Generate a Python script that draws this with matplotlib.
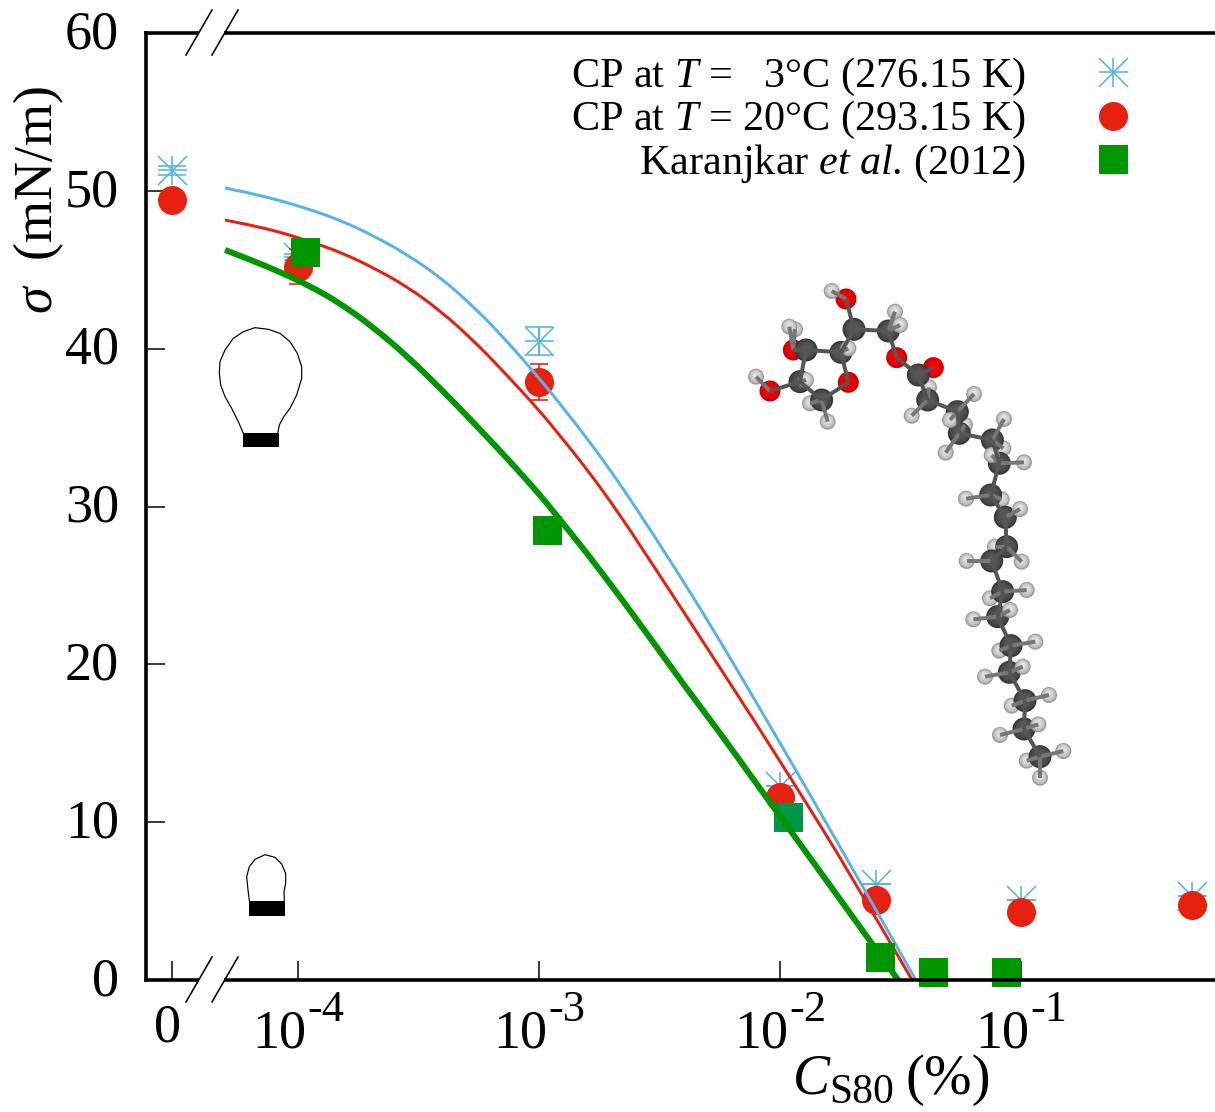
import numpy as np
import matplotlib
matplotlib.use('Agg')
import matplotlib.pyplot as plt
from matplotlib.lines import Line2D
from matplotlib.patches import Circle, PathPatch, Rectangle
from matplotlib.path import Path
from matplotlib.ticker import NullLocator
from matplotlib.transforms import ScaledTranslation

plt.rcParams['font.family'] = ['Liberation Serif', 'DejaVu Serif']
plt.rcParams['mathtext.fontset'] = 'custom'
plt.rcParams['mathtext.rm'] = 'Liberation Serif'
plt.rcParams['mathtext.it'] = 'Liberation Serif:italic'

# concentration used for the "0" position on the broken log axis
zero_pos = 3e-5

# simulation points
cp_conc = [zero_pos, 1e-4, 1e-3, 1e-2, 0.025, 0.1, 0.51]
cp3_sigma = [51.3, 45.8, 40.5, 12.3, 6.1, 5.1, 5.3]
cp3_err = [0.3, 0.2, 0.9, 0, 0, 0, 0]
cp20_sigma = [49.4, 45.2, 37.9, 11.6, 5.1, 4.3, 4.75]
cp20_err = [0, 1.1, 1.14, 0, 0, 0, 0]

# experiment
kar_conc = [1.07e-4, 1.08e-3, 1.08e-2, 0.0260, 0.0432, 0.0867]
kar_sigma = [46.1, 28.5, 10.3, 1.46, 0.5, 0.5]

# fitted curves
fit_conc = [4.98e-5, 6.32e-5, 8.41e-5, 1.12e-4, 1.49e-4, 2.05e-4, 2.83e-4, 3.88e-4, 5.32e-4, 7.36e-4,
            1.01e-3, 1.16e-3, 1.58e-3, 2.17e-3, 2.97e-3, 4.11e-3, 5.64e-3, 7.73e-3,
            1.10e-2, 1.95e-2]
fit3_sigma = [50.18, 49.86, 49.39, 48.82, 48.15, 47.17, 45.97, 44.54, 42.70, 40.49,
              38.05, 36.94, 34.34, 31.43, 28.26, 24.90, 21.48, 17.93, 13.94, 7.35]
fit20_sigma = [48.15, 47.84, 47.39, 46.79, 46.13, 45.14, 43.94, 42.42, 40.55, 38.33,
               36.02, 34.91, 32.38, 29.46, 26.29, 23.00, 19.77, 16.54, 12.86, 6.78]
fitk_sigma = [46.25, 45.65, 44.86, 43.97, 42.89, 41.37, 39.54, 37.51, 35.35, 33.07,
              30.73, 29.59, 27.05, 24.27, 21.42, 18.44, 15.65, 12.74, 9.50, 4.25]
fit3_end = 3.66e-2
fit20_end = 3.53e-2
fitk_end = 3.09e-2

yticks = [0, 10, 20, 30, 40, 50, 60]
decades = [1e-4, 1e-3, 1e-2, 1e-1]
decade_exp = ['-4', '-3', '-2', '-1']

sky = '#56b4e9'
red = '#e8200f'
green = '#009600'


def pts(px):
    return px * 72 / 100


def curve(ax, conc, sigma, color, lw, zorder):
    # read points are used as control points so the line stays round, no kinks
    lx = np.log10(conc)
    y = np.array(sigma)
    verts = [(lx[0], y[0])]
    codes = [Path.MOVETO]
    for i in range(1, len(lx) - 2):
        verts += [(lx[i], y[i]), ((lx[i] + lx[i + 1]) / 2, (y[i] + y[i + 1]) / 2)]
        codes += [Path.CURVE3, Path.CURVE3]
    verts += [(lx[-2], y[-2]), (lx[-1], y[-1])]
    codes += [Path.CURVE3, Path.CURVE3]
    verts = np.array(verts)
    verts[:, 0] = 10 ** verts[:, 0]
    ax.add_patch(PathPatch(Path(verts, codes), fc='none', ec=color, lw=lw, zorder=zorder, capstyle='butt'))


fig = plt.figure(figsize=(12.15, 11.12), dpi=100)
ax = fig.add_axes([146 / 1215, 132 / 1112, 1069 / 1215, 947 / 1112])
ax.set_xscale('log')
ax.set_xlim(2.34e-5, 0.638)
ax.set_ylim(0, 60)

# stars are a plus and a cross on top of each other
ax.plot(cp_conc, cp3_sigma, ls='none', marker='+', ms=pts(29), mew=pts(1.6), color=sky, zorder=2)
ax.plot(cp_conc, cp3_sigma, ls='none', marker='x', ms=pts(29), mew=pts(1.6), color=sky, zorder=2)
ax.errorbar(cp_conc, cp3_sigma, yerr=cp3_err, fmt='none', ecolor=sky, elinewidth=pts(1.6),
            capsize=pts(14), capthick=pts(1.6), zorder=2)
ax.errorbar(cp_conc, cp20_sigma, yerr=cp20_err, fmt='none', ecolor=red, elinewidth=pts(1.6),
            capsize=pts(9), capthick=pts(1.6), zorder=2.01)
ax.plot(cp_conc, cp20_sigma, ls='none', marker='o', ms=pts(29), mew=0, color=red, zorder=2.02)

curve(ax, fit_conc + [fit3_end], fit3_sigma + [0], sky, pts(3), 2.03)
curve(ax, fit_conc + [fit20_end], fit20_sigma + [0], red, pts(3), 2.04)

ax.plot(kar_conc, kar_sigma, ls='none', marker='s', ms=pts(29), mew=0, color=green, zorder=2.05, clip_on=False)
ax.plot(kar_conc[2], kar_sigma[2], ls='none', marker='s', ms=pts(29), mew=0, color='#009645', zorder=2.06)
curve(ax, fit_conc + [fitk_end], fitk_sigma + [0], green, pts(6), 2.07)

for s in ['top', 'left', 'bottom']:
    ax.spines[s].set_linewidth(pts(3.6))
ax.spines['right'].set_visible(False)

ax.set_xticks([zero_pos] + decades)
ax.set_xticklabels([])
ax.xaxis.set_minor_locator(NullLocator())
ax.set_yticks(yticks)
ax.tick_params(axis='both', which='major', direction='in', length=pts(19), width=pts(1.5),
               top=False, right=False)
ax.tick_params(axis='y', labelsize=39, pad=pts(27))
lift = ScaledTranslation(0, 4 / 100, fig.dpi_scale_trans)
for lab in ax.get_yticklabels():
    lab.set_transform(lab.get_transform() + lift)

# 10 and its exponent are set apart, the exponent keeps a plain hyphen
ax.annotate('0', xy=(zero_pos, 0), xytext=(pts(-5), pts(-62)), textcoords='offset points',
            ha='center', va='baseline', fontsize=39)
for d, e in zip(decades, decade_exp):
    ax.annotate('10', xy=(d, 0), xytext=(pts(8), pts(-67)), textcoords='offset points',
                ha='right', va='baseline', fontsize=39)
    ax.annotate(e, xy=(d, 0), xytext=(pts(9), pts(-41)), textcoords='offset points',
                ha='left', va='baseline', fontsize=32)

ax.set_ylabel(r'$\sigma$  (mN/m)', fontsize=39)
ax.yaxis.set_label_coords((52 - 146) / 1069, (980 - 200) / 947, transform=ax.transAxes)
ax.yaxis.label.set_va('baseline')

h_star = (Line2D([], [], ls='none', marker='+', ms=pts(29), mew=pts(1.6), color=sky),
          Line2D([], [], ls='none', marker='x', ms=pts(29), mew=pts(1.6), color=sky))
h_dot = Line2D([], [], ls='none', marker='o', ms=pts(29), mew=0, color=red)
h_sq = Line2D([], [], ls='none', marker='s', ms=pts(29), mew=0, color=green)
ax.legend([h_star, h_dot, h_sq],
          [r'CP at $T$ =   3°C (276.15 K)', r'CP at $T$ = 20°C (293.15 K)',
           r'Karanjkar $\mathit{et\ al}$. (2012)'],
          loc='upper right', bbox_to_anchor=((1134 - 146) / 1069, (980 - 56) / 947),
          frameon=False, markerfirst=False, fontsize=30.4, numpoints=1, borderpad=0,
          borderaxespad=0, handlelength=1, handletextpad=1.55, labelspacing=0.03)

# overlay in picture pixels for the axis breaks, the drops and the molecule
ov = fig.add_axes([0, 0, 1, 1], facecolor='none')
ov.set_xlim(0, 1215)
ov.set_ylim(1112, 0)
ov.axis('off')

# axis title, C and its subscript are set by hand
ov.text(793, 1094, 'C', fontsize=40, style='italic', ha='left', va='baseline')
ov.text(829, 1103, 'S80', fontsize=30, ha='left', va='baseline')
ov.text(905, 1094, '(%)', fontsize=41, ha='left', va='baseline')

for yb in [33, 980]:
    ov.add_patch(Rectangle((199, yb - 4), 25, 8, fc='white', ec='none'))
    for xb in [186, 212]:
        ov.plot([xb, xb + 26], [yb + 22, yb - 23], color='black', lw=pts(1.6))

big_x = 190 + np.array([160, 145, 125, 105, 92, 88, 90, 105, 130, 160, 195, 235, 270, 300, 322,
                        335, 335, 320, 300, 280, 268, 263]) / 3
big_y = 310 + np.array([370, 335, 295, 260, 225, 190, 155, 120, 85, 65, 53, 58, 70, 95, 130,
                        170, 205, 255, 295, 322, 345, 370]) / 3
small_x = 130 + np.array([358, 354, 350, 358, 375, 405, 435, 455, 467, 467, 462, 463]) / 3
small_y = 840 + np.array([182, 150, 110, 80, 58, 44, 52, 72, 100, 130, 155, 182]) / 3
ov.plot(big_x, big_y, color='black', lw=pts(1.2))
ov.plot(small_x, small_y, color='black', lw=pts(1.2))
ov.add_patch(Rectangle((243, 433), 36, 14, fc='black', ec='none'))
ov.add_patch(Rectangle((249, 901), 35.5, 14.5, fc='black', ec='none'))


def z1(p):
    return (730 + p[0] / 3, 270 + p[1] / 3)


def z2(p):
    return (850 + p[0] / 3, 530 + p[1] / 3)


h_back = [z1(p) for p in [(195, 178), (178, 170), (240, 400), (597, 352), (705, 465), (820, 535), (815, 688)]] + \
    [z2(p) for p in [(435, 50), (420, 205), (448, 362), (485, 527), (530, 692)]]
h_front = [z1(p) for p in [(305, 63), (495, 125), (510, 165), (355, 235), (228, 330), (78, 320), (293, 455),
                           (545, 437), (732, 372), (660, 450), (647, 548), (822, 447), (785, 555), (882, 577),
                           (708, 686), (870, 717)]] + \
    [z2(p) for p in [(350, 93), (515, 95), (530, 180), (480, 240), (370, 268), (556, 335), (518, 410), (405, 440),
                     (597, 495), (565, 583), (450, 615), (640, 663), (570, 743)]]
oxygen = [z1(p) for p in [(348, 87), (500, 263), (190, 240), (355, 337), (120, 363), (610, 293)]]
carbon = [z1(p) for p in [(372, 178), (475, 183), (228, 240), (333, 247), (210, 335), (275, 390), (565, 315),
                          (593, 390), (682, 425), (688, 490), (787, 510), (808, 580), (782, 675), (826, 742)]] + \
    [z2(p) for p in [(470, 50), (425, 93), (458, 185), (443, 260), (483, 347), (478, 427), (525, 512), (522, 597),
                     (570, 680)]]

# heavy atom skeleton, indices into carbon and oxygen
skeleton = [('o', 0, 'c', 0), ('c', 0, 'c', 1), ('c', 0, 'c', 3), ('c', 3, 'c', 2), ('c', 2, 'c', 4), ('c', 4, 'c', 5),
            ('c', 5, 'o', 3), ('o', 3, 'c', 3), ('c', 4, 'o', 4), ('c', 1, 'o', 1), ('o', 1, 'c', 6), ('c', 6, 'o', 5),
            ('c', 2, 'o', 2)]
skeleton += [('c', i, 'c', i + 1) for i in range(6, 22)]


def atom(p, kind):
    return carbon[p] if kind == 'c' else oxygen[p]


bond_col = '#555555'
heavy = np.array(carbon + oxygen)
for h in h_back + h_front:
    d = np.hypot(heavy[:, 0] - h[0], heavy[:, 1] - h[1])
    n = heavy[d.argmin()]
    ov.plot([h[0], n[0]], [h[1], n[1]], color='#777777', lw=pts(4), solid_capstyle='butt')


def sphere(p, r, edge, core):
    edge = np.array(matplotlib.colors.to_rgb(edge))
    core = np.array(matplotlib.colors.to_rgb(core))
    for t in np.linspace(0, 1, 6):
        ov.add_patch(Circle((p[0], p[1] - 1.5 * t), r * (1 - 0.7 * t), fc=edge + (core - edge) * t ** 0.5, ec='none'))


for h in h_back:
    sphere(h, 8, '#989898', '#e0e0e0')
for k1, i1, k2, i2 in skeleton:
    a, b = atom(i1, k1), atom(i2, k2)
    ov.plot([a[0], b[0]], [a[1], b[1]], color=bond_col, lw=pts(4), solid_capstyle='butt')
for o in oxygen:
    sphere(o, 10.5, '#c80000', '#ff0000')
for c in carbon:
    sphere(c, 11.5, '#383838', '#585858')
for h in h_front:
    sphere(h, 8, '#989898', '#e0e0e0')

fig.savefig('out.png', dpi=100)
plt.close()
